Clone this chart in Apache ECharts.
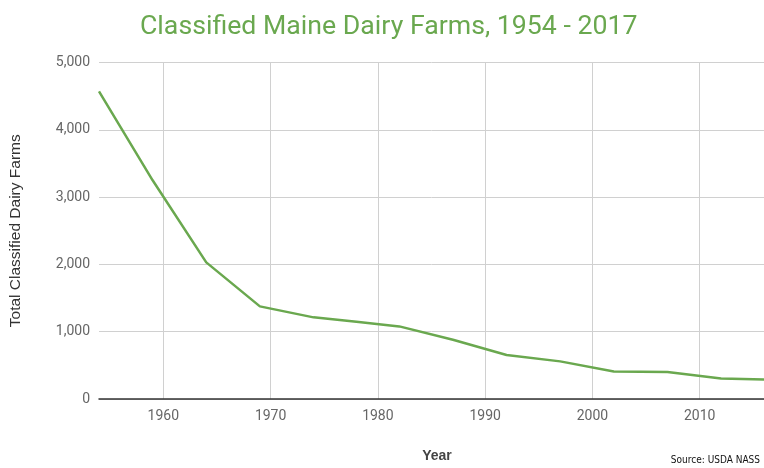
<!DOCTYPE html>
<html>
<head>
<meta charset="utf-8">
<script src="https://cdn.jsdelivr.net/npm/echarts@6/dist/echarts.min.js"></script>
<style>html,body{margin:0;padding:0;background:#fff;}#c{width:764px;height:468px;}</style>
</head>
<body>
<div id="c"></div>
<script>
const years = [1954, 1959, 1964, 1969, 1974, 1978, 1982, 1987, 1992, 1997, 2002, 2007, 2012, 2017];
const farms = [4570, 3250, 2030, 1376, 1213, 1149, 1079, 881, 654, 559, 410, 401, 306, 288];
const xTicks = [1960, 1970, 1980, 1990, 2000, 2010];
const yTicks = [0, 1000, 2000, 3000, 4000, 5000];

const chart = echarts.init(document.getElementById('c'), null, {renderer: 'canvas'});
chart.setOption({
  animation: false,
  backgroundColor: '#ffffff',
  title: {
    text: 'Classified Maine Dairy Farms, 1954 - 2017',
    left: 135, top: 9,
    textStyle: {fontFamily: 'Roboto', fontSize: 26.7, fontWeight: 'normal', color: '#6aa84f'}
  },
  grid: {left: 99, top: 62.5, bottom: 68.7, right: 0, containLabel: false},
  xAxis: {
    type: 'value', min: 1954, max: 2016,
    name: 'Year', nameLocation: 'middle', nameGap: 50,
    nameTextStyle: {fontFamily: 'Liberation Sans', fontSize: 14, fontWeight: 'bold', color: '#444',
      padding: [0, 0, 0, 11]},
    axisLine: {show: true, lineStyle: {color: '#333', width: 1.5}},
    axisTick: {show: false, customValues: xTicks},
    axisLabel: {customValues: xTicks, fontFamily: 'Roboto', fontSize: 14, color: '#666', margin: 10,
      formatter: v => String(v)},
    splitLine: {show: true, lineStyle: {color: '#d0d0d0', width: 1}}
  },
  yAxis: {
    type: 'value', min: yTicks[0], max: yTicks[yTicks.length - 1], interval: 1000,
    name: 'Total Classified Dairy Farms', nameLocation: 'middle', nameGap: 75,
    nameTextStyle: {fontFamily: 'Liberation Sans', fontSize: 15.5, color: '#333'},
    axisLine: {show: false}, axisTick: {show: false},
    axisLabel: {fontFamily: 'Roboto', fontSize: 14, color: '#666', margin: 9,
      formatter: v => v.toLocaleString('en-US')},
    splitLine: {show: true, lineStyle: {color: '#d0d0d0', width: 1}}
  },
  graphic: [{
    type: 'text', right: 4, bottom: 3,
    style: {text: 'Source: USDA NASS', font: '10px "DejaVu Sans Condensed", "DejaVu Sans"', fill: '#111'}
  }],
  series: [{
    type: 'line', data: years.map((y, i) => [y, farms[i]]),
    showSymbol: false, symbol: 'none',
    lineStyle: {color: '#6aa84f', width: 2.5},
    clip: true
  }]
});
</script>
</body>
</html>
